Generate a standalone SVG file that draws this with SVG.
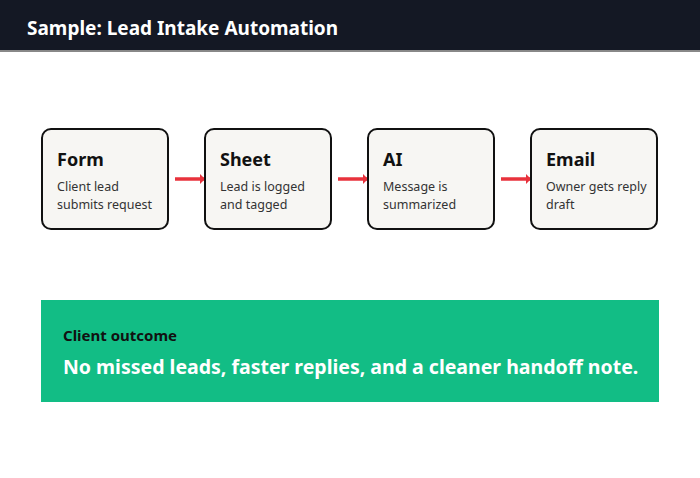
<svg xmlns="http://www.w3.org/2000/svg" width="700" height="478" viewBox="0 0 700 478">
<style>
text{font-family:"Noto Sans","Open Sans",sans-serif}
.box{fill:#f7f6f3;stroke:#111;stroke-width:2}
.t{font-size:18px;font-weight:700;fill:#111}
.s{font-size:12.5px;fill:#333}
.c{stroke:#e8323c;stroke-width:3.5;fill:none;marker-end:url(#ah)}
</style>
<defs><marker id="ah" markerWidth="6" markerHeight="10" refX="5" refY="5" orient="auto" markerUnits="userSpaceOnUse"><path d="M0,0 L5,5 L0,10 Z" fill="#e8323c"/></marker></defs>
<rect width="700" height="478" fill="#fff"/>
<g id="header"><rect width="700" height="51" fill="#141824"/><rect y="50" width="700" height="2" fill="#888"/>
<text x="27" y="35" font-size="19" font-weight="700" fill="#fff">Sample: Lead Intake Automation</text></g>
<g id="connectors">
<line class="c" x1="175" y1="179" x2="205" y2="179"/>
<line class="c" x1="338" y1="179" x2="368" y2="179"/>
<line class="c" x1="501" y1="179" x2="531" y2="179"/>
</g>
<g id="form"><rect class="box" x="42" y="129" width="126" height="100" rx="9"/><text class="t" x="57" y="166">Form</text><text class="s" x="57" y="191">Client lead</text><text class="s" x="57" y="209">submits request</text></g>
<g id="sheet"><rect class="box" x="205" y="129" width="126" height="100" rx="9"/><text class="t" x="220" y="166">Sheet</text><text class="s" x="220" y="191">Lead is logged</text><text class="s" x="220" y="209">and tagged</text></g>
<g id="ai"><rect class="box" x="368" y="129" width="126" height="100" rx="9"/><text class="t" x="383" y="166">AI</text><text class="s" x="383" y="191">Message is</text><text class="s" x="383" y="209">summarized</text></g>
<g id="email"><rect class="box" x="531" y="129" width="126" height="100" rx="9"/><text class="t" x="546" y="166">Email</text><text class="s" x="546" y="191">Owner gets reply</text><text class="s" x="546" y="209">draft</text></g>
<g id="outcome"><rect x="41" y="300" width="618" height="102" fill="#12bd85"/>
<text x="63" y="341" font-size="15" font-weight="700" fill="#111">Client outcome</text>
<text x="63" y="374" font-size="19.5" font-weight="700" fill="#fff">No missed leads, faster replies, and a cleaner handoff note.</text></g>
</svg>
